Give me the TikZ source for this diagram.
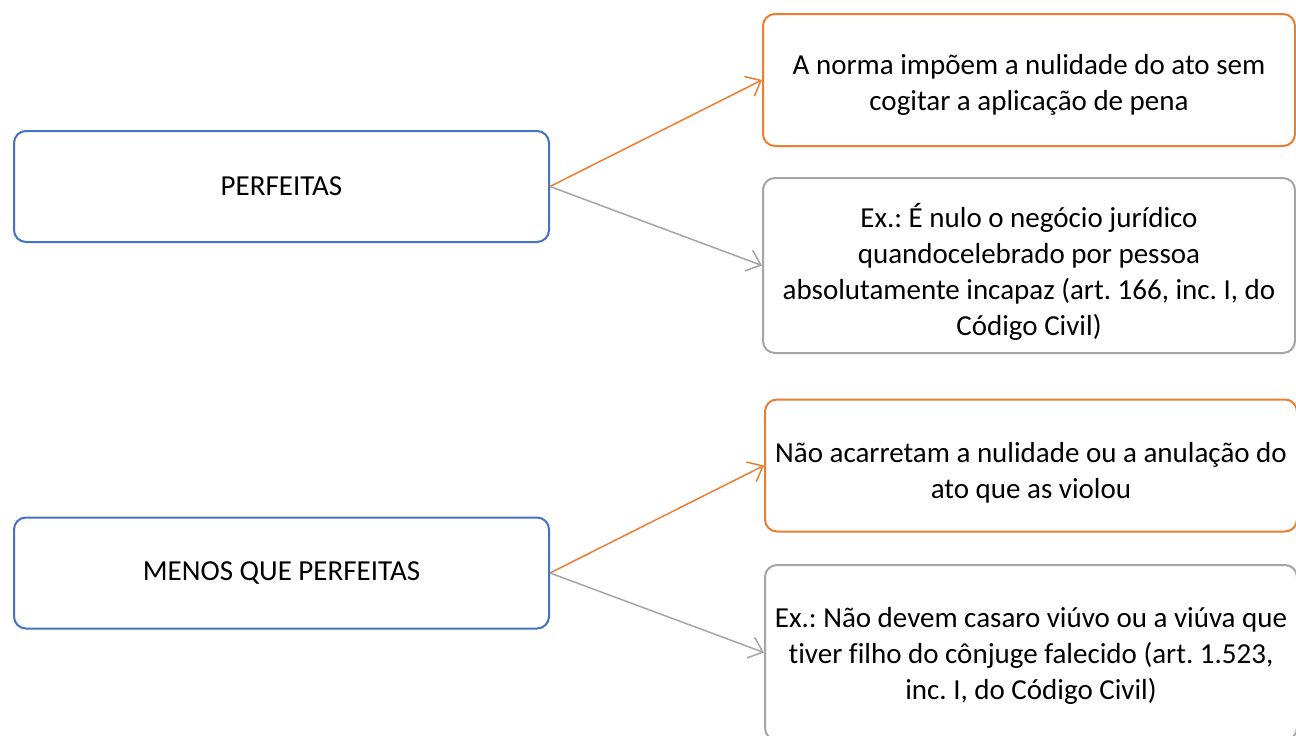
\documentclass[tikz,border=0pt]{standalone}
\usepackage{fontspec}
\setmainfont{Carlito}[Ligatures=CommonOff]
\frenchspacing
\usetikzlibrary{arrows.meta}
\definecolor{cblue}{HTML}{4472C4}
\definecolor{corange}{HTML}{ED7D31}
\definecolor{cgrey}{HTML}{A5A5A5}
\tikzset{
  txt/.style={font=\fontsize{29}{36}\selectfont, text=black, align=center, inner sep=0pt},
  box/.style={draw, line width=2pt, rounded corners=12pt, inner sep=0pt, txt},
  leftbox/.style={box, draw=cblue, minimum width=535pt, minimum height=111pt},
  obox/.style={box, draw=corange, minimum width=532pt, minimum height=132pt},
  gbox/.style={box, draw=cgrey, minimum width=532pt, minimum height=175pt},
  conn/.style={line width=1.5pt, -{Straight Barb[length=13pt,width=22pt,line width=1.5pt]}},
}
\begin{document}
\begin{tikzpicture}[x=1pt,y=-1pt]
\useasboundingbox (0,0) rectangle (1296,736);
\clip (0,0) rectangle (1296,736);
\fill[white] (0,0) rectangle (1296,736);
\node[leftbox] (p) at (281.5,186.5) {PERFEITAS};
\node[obox, label={[txt, yshift=-5pt]center:{A norma impõem a nulidade do ato sem\\cogitar a aplicação de pena}}] (p1) at (1029,80) {};
\node[gbox, label={[txt, yshift=-6pt]center:{Ex.: É nulo o negócio jurídico\\quandocelebrado por pessoa\\absolutamente incapaz (art. 166, inc. I, do\\Código Civil)}}] (p2) at (1029,265.5) {};
\node[leftbox] (m) at (281.5,573) {MENOS QUE PERFEITAS};
\node[obox, label={[txt, yshift=-7pt]center:{Não acarretam a nulidade ou a anulação do\\ato que as violou}}] (m1) at (1031,465.5) {};
\node[gbox, label={[txt, yshift=-3pt]center:{Ex.: Não devem casaro viúvo ou a viúva que\\tiver filho do cônjuge falecido (art. 1.523,\\inc. I, do Código Civil)}}] (m2) at (1031,652.5) {};
\draw[conn, corange] (p.east) -- (p1.west);
\draw[conn, cgrey] (p.east) -- (p2.west);
\draw[conn, corange] (m.east) -- (m1.west);
\draw[conn, cgrey] (m.east) -- (m2.west);
\end{tikzpicture}
\end{document}
